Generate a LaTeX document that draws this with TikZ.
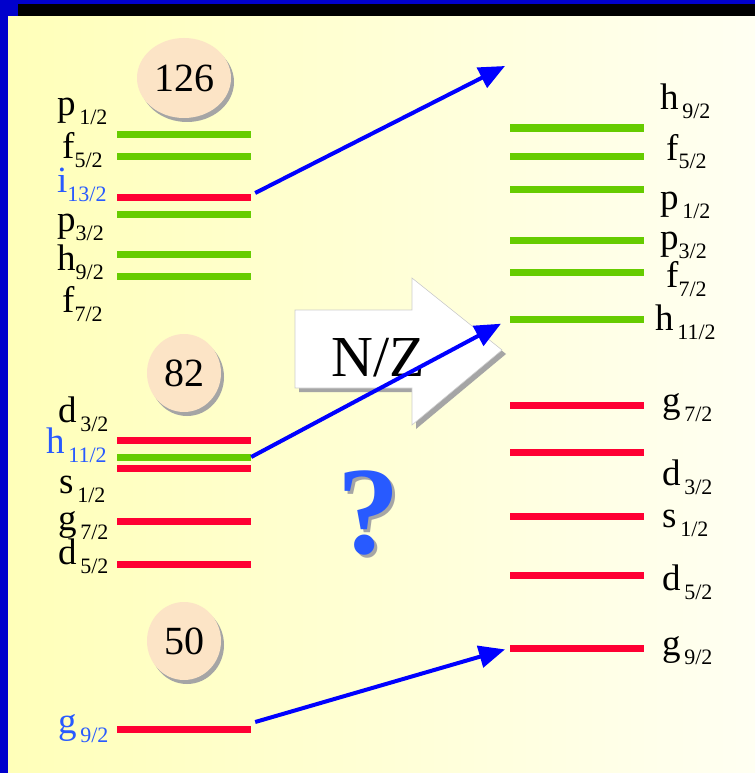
\documentclass[tikz,border=0pt]{standalone}
\usepackage{fontspec}
\setmainfont{Liberation Serif}
\newfontfamily\tms{Liberation Serif}
\usetikzlibrary{shadows,shapes.geometric,arrows.meta}
\definecolor{navy}{RGB}{0,0,204}
\definecolor{lgreen}{RGB}{102,204,0}
\definecolor{lred}{RGB}{255,0,51}
\definecolor{lblue}{RGB}{40,90,255}
\definecolor{peach}{RGB}{252,228,198}
\definecolor{bgL}{RGB}{255,255,185}
\definecolor{bgR}{RGB}{255,255,242}
\definecolor{shadowgray}{RGB}{165,165,165}
\newcommand{\lv}[2]{{\tms\fontsize{37}{37}\selectfont #1}{\tms\fontsize{22}{22}\selectfont\raisebox{-9pt}{#2}}}
\tikzset{
  levL/.style={inner sep=0pt, minimum width=134pt, minimum height=7pt, fill=#1},
  lab/.style={anchor=base west, inner sep=0pt},
  magic/.style={ellipse, fill=peach, inner sep=0pt, font=\tms\fontsize{40}{40}\selectfont,
    drop shadow={shadow xshift=3pt, shadow yshift=-4pt, fill=shadowgray, opacity=1}},
  bluearr/.style={draw=blue, line width=4pt, -{Triangle[length=26pt,width=22pt]}}
}
\begin{document}
\begin{tikzpicture}[x=1pt,y=-1pt, font=\tms]
\useasboundingbox (0,0) rectangle (755,773);
% slide frame
\fill[navy] (0,0) rectangle (755,773);
\fill[black] (18,4) rectangle (755,17);
\shade[left color=bgL, right color=bgR] (8,17) rectangle (755,773);

% magic number circles
\node[magic, minimum width=94pt, minimum height=80pt] (c126) at (184,78) {126};
\node[magic, minimum width=74pt, minimum height=78pt] (c82) at (184,373) {82};
\node[magic, minimum width=74pt, minimum height=78pt] (c50) at (184,641) {50};

% left levels
\node[levL=lgreen] (p1L) at (184,134) {};
\node[levL=lgreen] (f5L) at (184,156) {};
\node[levL=lred] (i13L) at (184,197) {};
\node[levL=lgreen] (p3L) at (184,214) {};
\node[levL=lgreen] (h9L) at (184,254) {};
\node[levL=lgreen] (f7L) at (184,276) {};
\node[levL=lred] (d3L) at (184,440) {};
\node[levL=lgreen] (h11L) at (184,457) {};
\node[levL=lred] (s1L) at (184,468) {};
\node[levL=lred] (g7L) at (184,521) {};
\node[levL=lred] (d5L) at (184,564) {};
\node[levL=lred] (g9L) at (184,729) {};

% right levels
\node[levL=lgreen] (h9R) at (577,128) {};
\node[levL=lgreen] (f5R) at (577,156) {};
\node[levL=lgreen] (p1R) at (577,189) {};
\node[levL=lgreen] (p3R) at (577,240) {};
\node[levL=lgreen] (f7R) at (577,272) {};
\node[levL=lgreen] (h11R) at (577,319) {};
\node[levL=lred] (g7R) at (577,405) {};
\node[levL=lred] (d3R) at (577,452) {};
\node[levL=lred] (s1R) at (577,516) {};
\node[levL=lred] (d5R) at (577,575) {};
\node[levL=lred] (g9R) at (577,648) {};

% left labels
\node[lab] (tp1L) at (57,116) {\lv{p}{\,1/2}};
\node[lab] (tf5L) at (62,158) {\lv{f}{5/2}};
\node[lab, text=lblue] (ti13L) at (57,192) {\lv{i}{13/2}};
\node[lab] (tp3L) at (57,231) {\lv{p}{3/2}};
\node[lab] (th9L) at (57,270) {\lv{h}{9/2}};
\node[lab] (tf7L) at (62,312) {\lv{f}{7/2}};
\node[lab] (td3L) at (58,422) {\lv{d}{\,3/2}};
\node[lab, text=lblue] (th11L) at (46,453) {\lv{h}{\,11/2}};
\node[lab] (ts1L) at (59,493) {\lv{s}{\,1/2}};
\node[lab] (tg7L) at (58,530) {\lv{g}{\,7/2}};
\node[lab] (td5L) at (58,564) {\lv{d}{\,5/2}};
\node[lab, text=lblue] (tg9L) at (58,733) {\lv{g}{\,9/2}};

% right labels
\node[lab] (th9R) at (660,110) {\lv{h}{\,9/2}};
\node[lab] (tf5R) at (666,160) {\lv{f}{5/2}};
\node[lab] (tp1R) at (660,209) {\lv{p}{\,1/2}};
\node[lab] (tp3R) at (660,249) {\lv{p}{3/2}};
\node[lab] (tf7R) at (666,287) {\lv{f}{7/2}};
\node[lab] (th11R) at (655,330) {\lv{h}{\,11/2}};
\node[lab] (tg7R) at (662,412) {\lv{g}{\,7/2}};
\node[lab] (td3R) at (662,485) {\lv{d}{\,3/2}};
\node[lab] (ts1R) at (662,527) {\lv{s}{\,1/2}};
\node[lab] (td5R) at (662,590) {\lv{d}{\,5/2}};
\node[lab] (tg9R) at (662,655) {\lv{g}{\,9/2}};

% big N/Z arrow
\fill[shadowgray] (299,314) -- (416,314) -- (416,282) -- (506,354) -- (416,429) -- (416,392) -- (299,392) -- cycle;
\filldraw[fill=white, draw=black!20, line width=0.6pt] (295,310) -- (412,310) -- (412,278) -- (502,350) -- (412,425) -- (412,388) -- (295,388) -- cycle;
\node[inner sep=0pt, font=\tms\fontsize{58}{58}\selectfont] (nz) at (378,358) {N/Z};

% question mark
\node[inner sep=0pt, text=shadowgray, font=\tms\bfseries\fontsize{125}{125}\selectfont] (qs) at (372,516) {?};
\node[inner sep=0pt, text=lblue, font=\tms\bfseries\fontsize{125}{125}\selectfont] (q) at (369,513) {?};

% arrows
\coordinate (t1) at (505,66);
\draw[bluearr] ([shift={(4pt,4pt)}]i13L.east) -- (t1);
\draw[bluearr, shorten >=10pt] (h11L.east) -- (h11R.west);
\draw[bluearr, shorten >=5pt] ([shift={(4pt,7pt)}]g9L.east) -- (g9R.west);
\end{tikzpicture}
\end{document}
